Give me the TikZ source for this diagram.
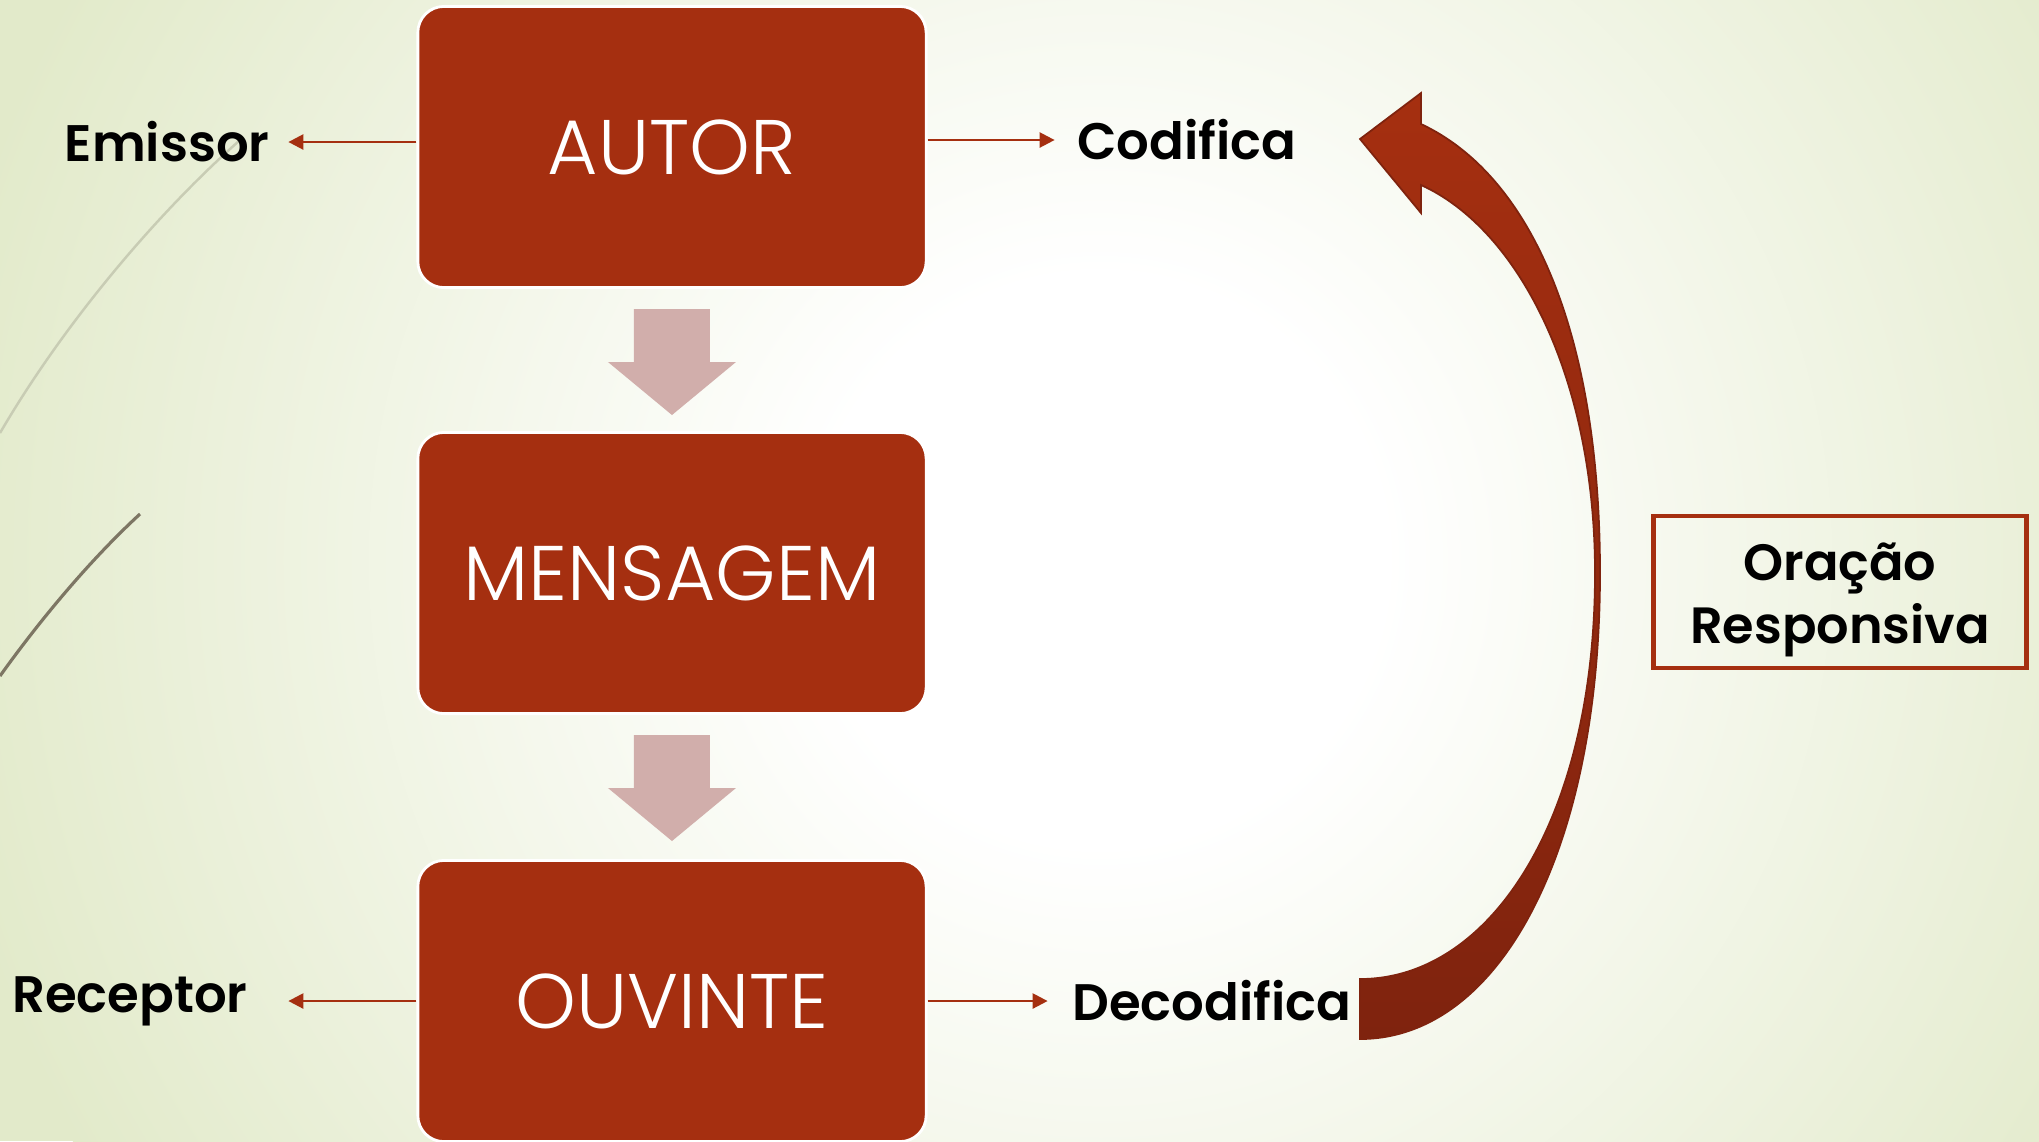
\documentclass[tikz,border=0pt]{standalone}
\usepackage{fontspec}
\setmainfont{Poppins}
\newfontfamily\boxfont{Poppins Light}
\newfontfamily\lblfont{Poppins SemiBold}
\usetikzlibrary{arrows.meta,positioning}

\definecolor{boxred}{HTML}{A52F10}
\definecolor{flowpink}{HTML}{D1AEAB}
\definecolor{bgedge}{HTML}{E2EACA}
\definecolor{arrowdark}{HTML}{7F230E}
\definecolor{grasslight}{HTML}{C8CCB4}
\definecolor{grassdark}{HTML}{7D7664}

\pgfdeclareradialshading{bgglow}{\pgfpoint{0bp}{0bp}}{color(0bp)=(white); color(6bp)=(white);
	color(25bp)=(bgedge); color(50bp)=(bgedge)}

\begin{document}
\begin{tikzpicture}[x=0.01cm, y=-0.01cm,
		block/.style={fill=boxred, draw=white, line width=0.8pt, rounded corners=0.26cm,
			minimum width=5.08cm, minimum height=2.81cm, text=white,
			font=\boxfont\fontsize{22}{26}\selectfont},
		lbl/.style={inner sep=0pt, font=\lblfont\fontsize{14.6}{18}\selectfont},
		lblarrow/.style={draw=boxred, line width=0.7pt, -{Triangle[length=1.5mm,width=1.5mm]}},
		flow/.style={fill=flowpink},
		respbox/.style={draw=boxred, line width=1.3pt, minimum width=3.73cm, minimum height=1.52cm},
		resptext/.style={align=center, font=\lblfont\fontsize{14.5}{18}\selectfont},
	]
		% background
		\useasboundingbox (0,0) rectangle (2039,1141);
		\begin{scope}
			\clip (0,0) rectangle (2039,1141);
			\fill[bgedge] (0,0) rectangle (2039,1141);
			\shade[shading=bgglow] (1100,560) circle (1180);
		\end{scope}
		\draw[grasslight, line width=0.7pt] (0,433) .. controls (60,330) and (150,220) .. (240,140);
		\draw[grassdark, line width=0.9pt] (0,676) .. controls (40,620) and (90,560) .. (140,514);

		% main boxes
		\node[block] (autor) at (672,147) {AUTOR};
		\node[block] (mensagem) at (672,573) {MENSAGEM};
		\node[block] (ouvinte) at (672,1001) {OUVINTE};

		\foreach \b in {autor,mensagem}
			\fill[flow] ([xshift=-0.38cm, yshift=-0.2cm]\b.south) -- ++(76,0) -- ++(0,53) -- ++(26,0)
				-- ++(-64,53) -- ++(-64,-53) -- ++(26,0) -- cycle;

		% side labels
		\node[lbl, left=1.46cm of autor, yshift=0.05cm] (emissor) {Emissor};
		\node[lbl, right=1.49cm of autor, yshift=0.07cm] (codifica) {Codifica};
		\node[lbl, left=1.68cm of ouvinte] (receptor) {Receptor};
		\node[lbl, right=1.44cm of ouvinte] (decodifica) {Decodifica};

		\draw[lblarrow, shorten >=0.18cm] (autor.west |- emissor) -- (emissor);
		\draw[lblarrow, shorten >=0.22cm] (autor.east |- codifica) -- (codifica);
		\draw[lblarrow, shorten >=0.40cm] (ouvinte) -- (receptor);
		\draw[lblarrow, shorten >=0.24cm] (ouvinte) -- (decodifica);

		% curved arrow back to the top
		\shade[top color=boxred, bottom color=arrowdark, draw=arrowdark, line width=0.5pt]
			(1421,124) -- (1421,93) -- (1360,139) -- (1421,213) -- (1421,185)
			.. controls (1520,230) and (1595,380) .. (1595,573)
			.. controls (1595,820) and (1490,979) .. (1360,979)
			-- (1360,1039)
			.. controls (1500,1039) and (1600,850) .. (1600,573)
			.. controls (1600,330) and (1530,175) .. (1421,124) -- cycle;

		\node[respbox] (oracao) at (1840,592) {};
		\node[resptext] (oracaotxt) at ([yshift=-0.08cm]oracao.center) {Oração\\Responsiva};
	\end{tikzpicture}
\end{document}
